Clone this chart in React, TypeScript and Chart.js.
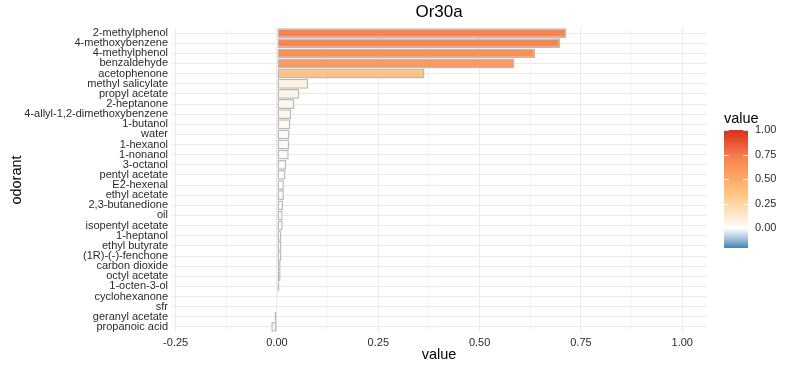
import { useEffect, useRef } from "react";
import { Chart, registerables } from "chart.js";

Chart.register(...registerables);

const chartTitle = "Or30a";
const xAxisTitle = "value";
const yAxisTitle = "odorant";
const legendTitle = "value";

const odorants = [
  "2-methylphenol",
  "4-methoxybenzene",
  "4-methylphenol",
  "benzaldehyde",
  "acetophenone",
  "methyl salicylate",
  "propyl acetate",
  "2-heptanone",
  "4-allyl-1,2-dimethoxybenzene",
  "1-butanol",
  "water",
  "1-hexanol",
  "1-nonanol",
  "3-octanol",
  "pentyl acetate",
  "E2-hexenal",
  "ethyl acetate",
  "2,3-butanedione",
  "oil",
  "isopentyl acetate",
  "1-heptanol",
  "ethyl butyrate",
  "(1R)-(-)-fenchone",
  "carbon dioxide",
  "octyl acetate",
  "1-octen-3-ol",
  "cyclohexanone",
  "sfr",
  "geranyl acetate",
  "propanoic acid",
];

const values = [
  0.714, 0.699, 0.637, 0.586, 0.364, 0.077, 0.055, 0.043, 0.035, 0.033,
  0.031, 0.03, 0.029, 0.023, 0.021, 0.017, 0.017, 0.015, 0.014, 0.014,
  0.011, 0.011, 0.011, 0.009, 0.009, 0.006, 0.002, 0.001, -0.006, -0.014,
];

const xMajorTicks = [-0.25, 0, 0.25, 0.5, 0.75, 1.0];
const xMinorTicks = [-0.125, 0.125, 0.375, 0.625, 0.875];
const xLimits = [-0.26, 1.06];
const legendTicks = [0, 0.25, 0.5, 0.75, 1.0];
const colorLimits = [-0.2, 1];

// palette (value -> colour)
const paletteStops: [number, string][] = [
  [-0.2, "#4682B4"],
  [-0.1, "#A9C6DE"],
  [0, "#FFFFFF"],
  [0.077, "#FFF0E0"],
  [0.364, "#FEC47F"],
  [0.586, "#FB9A5F"],
  [0.714, "#F8834F"],
  [1.0, "#D7301F"],
];

const FONT = "'Liberation Sans', Arial, sans-serif";
const TEXT = "#2B2B2B";
const GRID = "#EBEBEB";

function hexToRgb(h: string) {
  const n = parseInt(h.slice(1), 16);
  return [(n >> 16) & 255, (n >> 8) & 255, n & 255];
}

function colorFor(v: number) {
  const s = paletteStops;
  if (v <= s[0][0]) return s[0][1];
  if (v >= s[s.length - 1][0]) return s[s.length - 1][1];
  for (let i = 0; i < s.length - 1; i++) {
    const [a, ca] = s[i];
    const [b, cb] = s[i + 1];
    if (v >= a && v <= b) {
      const t = (v - a) / (b - a);
      const A = hexToRgb(ca);
      const B = hexToRgb(cb);
      const c = A.map((x, k) => Math.round(x + (B[k] - x) * t));
      return `rgb(${c[0]},${c[1]},${c[2]})`;
    }
  }
  return "#FFFFFF";
}

const decorPlugin = {
  id: "decor",
  afterDraw(chart: any) {
    const { ctx, chartArea } = chart;
    const cx = (chartArea.left + chartArea.right) / 2;
    const cy = (chartArea.top + chartArea.bottom) / 2;
    ctx.save();
    ctx.fillStyle = "#000000";
    // title
    ctx.font = `17px ${FONT}`;
    ctx.textAlign = "center";
    ctx.textBaseline = "middle";
    ctx.fillText(chartTitle, cx, 12);
    // x title
    ctx.font = `14.5px ${FONT}`;
    ctx.fillText(xAxisTitle, cx, 355);
    // y title
    ctx.save();
    ctx.translate(17, cy);
    ctx.rotate(-Math.PI / 2);
    ctx.fillText(yAxisTitle, 0, 0);
    ctx.restore();

    // legend colourbar
    const bx = 724;
    const bw = 24;
    const top = 130;
    const bottom = 248;
    const span = colorLimits[1] - colorLimits[0];
    const yOf = (v: number) => bottom - ((v - colorLimits[0]) / span) * (bottom - top);
    const grad = ctx.createLinearGradient(0, bottom, 0, top);
    paletteStops.forEach(([v, c]) => {
      const t = (v - colorLimits[0]) / span;
      if (t >= 0 && t <= 1) grad.addColorStop(t, c);
    });
    ctx.fillStyle = grad;
    ctx.fillRect(bx, top, bw, bottom - top);
    // ticks
    ctx.strokeStyle = "rgba(255,255,255,0.9)";
    ctx.lineWidth = 1;
    legendTicks.forEach((v) => {
      const y = Math.round(yOf(v)) + 0.5;
      ctx.beginPath();
      ctx.moveTo(bx, y);
      ctx.lineTo(bx + bw / 5, y);
      ctx.moveTo(bx + bw - bw / 5, y);
      ctx.lineTo(bx + bw, y);
      ctx.stroke();
    });
    ctx.fillStyle = TEXT;
    ctx.font = `11px ${FONT}`;
    ctx.textAlign = "left";
    ctx.textBaseline = "middle";
    legendTicks.forEach((v) => {
      ctx.fillText(v.toFixed(2), bx + bw + 7, yOf(v));
    });
    ctx.fillStyle = "#000000";
    ctx.font = `14.5px ${FONT}`;
    ctx.textBaseline = "alphabetic";
    ctx.fillText(legendTitle, bx, 123);
    ctx.restore();
  },
};

export default function App() {
  const ref = useRef<HTMLCanvasElement | null>(null);
  useEffect(() => {
    if (!ref.current) return;
    const chart = new Chart(ref.current, {
      type: "bar",
      data: {
        labels: odorants,
        datasets: [
          {
            data: values,
            backgroundColor: values.map((v) => colorFor(v)),
            borderColor: "#BABABA",
            borderWidth: 1.5,
            borderSkipped: false,
            barPercentage: 0.97,
            categoryPercentage: 1,
          },
        ],
      },
      options: {
        indexAxis: "y",
        animation: false,
        responsive: false,
        maintainAspectRatio: false,
        layout: { padding: { top: 28, right: 93.4, left: 0, bottom: 0 } },
        plugins: {
          legend: { display: false },
          tooltip: { enabled: false },
          title: { display: false },
        },
        scales: {
          x: {
            type: "linear",
            min: xLimits[0],
            max: xLimits[1],
            afterBuildTicks: (scale: any) => {
              scale.ticks = [...xMajorTicks, ...xMinorTicks]
                .sort((a, b) => a - b)
                .map((v) => ({ value: v }));
            },
            afterFit: (scale: any) => {
              scale.height = 38;
            },
            border: { display: false },
            grid: {
              drawTicks: false,
              color: GRID,
              lineWidth: (c: any) =>
                xMajorTicks.includes(c.tick?.value) ? 1 : 0.5,
            },
            ticks: {
              autoSkip: false,
              maxRotation: 0,
              padding: 4,
              color: TEXT,
              font: { family: FONT, size: 11 },
              callback: (v: any) =>
                xMajorTicks.includes(Number(v)) ? Number(v).toFixed(2) : "",
            },
          },
          y: {
            type: "category",
            offset: true,
            afterFit: (scale: any) => {
              scale.width = 171.6;
            },
            border: { display: false },
            grid: { offset: false, drawTicks: false, color: GRID, lineWidth: 1 },
            ticks: {
              autoSkip: false,
              padding: 3.6,
              color: TEXT,
              font: { family: FONT, size: 11 },
            },
          },
        },
      },
      plugins: [decorPlugin],
    } as any);
    return () => chart.destroy();
  }, []);
  return (
    <div style={{ position: "absolute", left: 0, top: 0, width: 800, height: 370, background: "#FFFFFF" }}>
      <canvas ref={ref} width={800} height={370} />
    </div>
  );
}
